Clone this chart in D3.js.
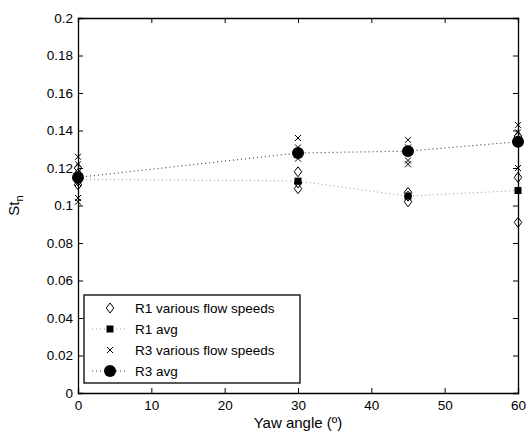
<!DOCTYPE html>
<html>
<head>
<meta charset="utf-8">
<script src="https://cdn.jsdelivr.net/npm/d3@7"></script>
<style>
body { margin: 0; background: #fff; }
text { font-family: "Liberation Sans", Arial, sans-serif; }
</style>
</head>
<body>
<script>
// yaw angles
var angles = [0, 30, 45, 60]

// R1 individual flow speeds
var r1Points = [
	[0, 0.111], [0, 0.113], [0, 0.117], [0, 0.120],
	[30, 0.109], [30, 0.112], [30, 0.118],
	[45, 0.102], [45, 0.105], [45, 0.107],
	[60, 0.091], [60, 0.115], [60, 0.137]
]
var r1Avg = [0.114, 0.113, 0.105, 0.108]

// R3 individual flow speeds
var r3Points = [
	[0, 0.102], [0, 0.104], [0, 0.112], [0, 0.122], [0, 0.126],
	[30, 0.125], [30, 0.128], [30, 0.131], [30, 0.136],
	[45, 0.122], [45, 0.124], [45, 0.131], [45, 0.135],
	[60, 0.120], [60, 0.139], [60, 0.143]
]
var r3Avg = [0.115, 0.128, 0.129, 0.134]

var xTicks = [0, 10, 20, 30, 40, 50, 60]
var yTicks = [0, 0.02, 0.04, 0.06, 0.08, 0.1, 0.12, 0.14, 0.16, 0.18, 0.2]
var legendLabels = ["R1 various flow speeds", "R1 avg", "R3 various flow speeds", "R3 avg"]

var w = 526
var h = 432
var mLeft = 78, mRight = 518, mTop = 18, mBottom = 393

var svg = d3.select("body").append("svg")
	.attr("width", w)
	.attr("height", h)

var xScale = d3.scaleLinear().domain([0, 60]).range([mLeft, mRight])
var yScale = d3.scaleLinear().domain([0, 0.2]).range([mBottom, mTop])

var fmt = (d) => d === 0 ? "0" : String(+d.toFixed(2))

// axes, ticks inward on all four sides
svg.append("g")
	.attr("transform", "translate(0," + mBottom + ")")
	.call(d3.axisBottom(xScale).tickValues(xTicks).tickSize(-5).tickPadding(7).tickFormat(fmt))
svg.append("g")
	.attr("transform", "translate(0," + mTop + ")")
	.call(d3.axisTop(xScale).tickValues(xTicks).tickSize(-5).tickFormat(""))
svg.append("g")
	.attr("transform", "translate(" + mLeft + ",0)")
	.call(d3.axisLeft(yScale).tickValues(yTicks).tickSize(-5).tickPadding(5).tickFormat(fmt))
svg.append("g")
	.attr("transform", "translate(" + mRight + ",0)")
	.call(d3.axisRight(yScale).tickValues(yTicks).tickSize(-5).tickFormat(""))

svg.selectAll(".domain").attr("stroke", "#000").attr("stroke-width", 1.3)
svg.selectAll(".tick line").attr("stroke", "#000")
svg.selectAll(".tick text").attr("font-size", 13.5).attr("fill", "#000")
	.style("font-family", "'Liberation Sans', Arial, sans-serif")

// axis labels
svg.append("text")
	.attr("x", (mLeft + mRight) / 2)
	.attr("y", 428)
	.attr("text-anchor", "middle")
	.attr("font-size", 15)
	.text("Yaw angle (º)")

var yl = svg.append("text")
	.attr("transform", "translate(19," + ((mTop + mBottom) / 2) + ") rotate(-90)")
	.attr("text-anchor", "middle")
	.attr("font-size", 15)
yl.append("tspan").text("St")
yl.append("tspan").attr("font-size", 11).attr("dy", 4).text("n")

var line = d3.line().x((d, i) => xScale(angles[i])).y((d) => yScale(d))

function diamond(g, x, y, s) {
	g.append("path")
		.attr("d", "M" + x + "," + (y - s) + "L" + (x + s * 0.75) + "," + y + "L" + x + "," + (y + s) + "L" + (x - s * 0.75) + "," + y + "Z")
		.attr("fill", "none").attr("stroke", "#000").attr("stroke-width", 1)
}
function cross(g, x, y, s) {
	g.append("path")
		.attr("d", "M" + (x - s) + "," + (y - s) + "L" + (x + s) + "," + (y + s) + "M" + (x - s) + "," + (y + s) + "L" + (x + s) + "," + (y - s))
		.attr("stroke", "#000").attr("stroke-width", 1)
}

var plot = svg.append("g")

// avg lines
plot.append("path").datum(r1Avg)
	.attr("d", line).attr("fill", "none")
	.attr("stroke", "#999").attr("stroke-width", 1).attr("stroke-dasharray", "1,3")
plot.append("path").datum(r3Avg)
	.attr("d", line).attr("fill", "none")
	.attr("stroke", "#444").attr("stroke-width", 1.2).attr("stroke-dasharray", "1,3")

r1Points.forEach((d) => diamond(plot, xScale(d[0]), yScale(d[1]), 5))
r3Points.forEach((d) => cross(plot, xScale(d[0]), yScale(d[1]), 3))

plot.selectAll("rect.avg1").data(r1Avg).enter().append("rect")
	.attr("x", (d, i) => xScale(angles[i]) - 3.5)
	.attr("y", (d) => yScale(d) - 3.5)
	.attr("width", 7).attr("height", 7).attr("fill", "#000")
plot.selectAll("circle.avg3").data(r3Avg).enter().append("circle")
	.attr("cx", (d, i) => xScale(angles[i]))
	.attr("cy", (d) => yScale(d))
	.attr("r", 6).attr("fill", "#000")

// legend
var lg = svg.append("g")
lg.append("rect")
	.attr("x", 84).attr("y", 295).attr("width", 216).attr("height", 88)
	.attr("fill", "#fff").attr("stroke", "#000").attr("stroke-width", 1.3)

var rowY = (i) => 308 + i * 21
legendLabels.forEach((lab, i) => {
	var cy = rowY(i)
	if (i === 1 || i === 3) {
		lg.append("line").attr("x1", 92).attr("x2", 128).attr("y1", cy).attr("y2", cy)
			.attr("stroke", i === 1 ? "#999" : "#444").attr("stroke-width", 1)
			.attr("stroke-dasharray", "1,3")
	}
	if (i === 0) diamond(lg, 110, cy, 5)
	if (i === 1) lg.append("rect").attr("x", 106.5).attr("y", cy - 3.5).attr("width", 7).attr("height", 7).attr("fill", "#000")
	if (i === 2) cross(lg, 110, cy, 3)
	if (i === 3) lg.append("circle").attr("cx", 110).attr("cy", cy).attr("r", 6).attr("fill", "#000")
	lg.append("text").attr("x", 135).attr("y", cy + 5).attr("font-size", 13.5).text(lab)
})
</script>
</body>
</html>
